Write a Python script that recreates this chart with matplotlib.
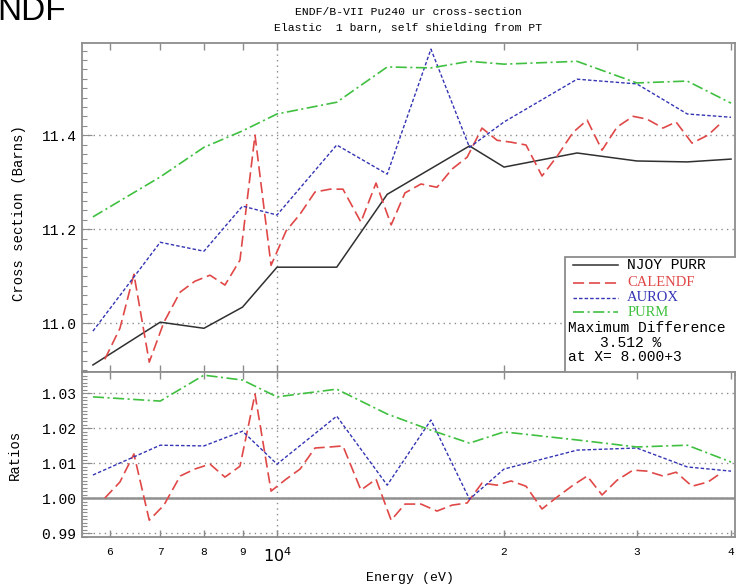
import matplotlib
matplotlib.use("Agg")
import matplotlib.pyplot as plt
from matplotlib.lines import Line2D
from matplotlib.patches import Rectangle
from matplotlib.ticker import FixedLocator, FixedFormatter, MultipleLocator, NullLocator

# energy grid (eV)
njoy_e = [5700, 7000, 8000, 9000, 10000, 12000, 14000, 18000, 20000,
          25000, 30000, 35000, 40000]
grid_e = [5700, 7000, 8000, 9000, 10000, 12000, 14000, 16000, 18000,
          20000, 25000, 30000, 35000, 40000]
calendf_e = [5910, 6190, 6460, 6770, 7080, 7440, 7780, 8150, 8530, 8930,
             9350, 9820, 10280, 10730, 11230, 11760, 12230, 12920, 13530, 14170,
             14780, 15520, 16300, 17070, 17870, 18700, 19580, 20430, 21390, 22460,
             23520, 24700, 25780, 26980, 28240, 29660, 30950, 32500, 33820, 35510,
             37290, 38930]

# cross sections (barns)
njoy = [10.911, 11.002, 10.989, 11.034, 11.119, 11.119, 11.274, 11.377, 11.332,
        11.362, 11.345, 11.343, 11.349]
aurox = [10.983, 11.172, 11.153, 11.249, 11.230, 11.379, 11.317, 11.583, 11.374,
         11.428, 11.519, 11.509, 11.445, 11.438]
purm = [11.226, 11.311, 11.374, 11.409, 11.445, 11.470, 11.545, 11.543, 11.557,
        11.551, 11.557, 11.511, 11.515, 11.468]
calendf = [10.923, 10.989, 11.104, 10.917, 11.002, 11.066, 11.089, 11.102, 11.081, 11.134,
           11.400, 11.123, 11.196, 11.232, 11.279, 11.285, 11.285, 11.215, 11.298, 11.209,
           11.277, 11.296, 11.289, 11.328, 11.353, 11.415, 11.389, 11.385, 11.379, 11.313,
           11.355, 11.406, 11.432, 11.368, 11.417, 11.440, 11.434, 11.415, 11.428, 11.383,
           11.400, 11.428]

# ratios to NJOY
aurox_ratio = [1.0066, 1.0151, 1.0149, 1.0191, 1.0097, 1.0234, 1.0037, 1.0223, 0.9997,
               1.0083, 1.0137, 1.0143, 1.0089, 1.0077]
purm_ratio = [1.0289, 1.0277, 1.0351, 1.0337, 1.0289, 1.0311, 1.0240, 1.0194, 1.0157,
              1.0189, 1.0166, 1.0146, 1.0151, 1.0103]
calendf_ratio = [1.0000, 1.0046, 1.0126, 0.9937, 0.9980, 1.0063, 1.0083, 1.0097, 1.0060, 1.0091,
                 1.0297, 1.0020, 1.0054, 1.0083, 1.0143, 1.0146, 1.0149, 1.0023, 1.0054, 0.9937,
                 0.9983, 0.9983, 0.9963, 0.9980, 0.9986, 1.0043, 1.0037, 1.0049, 1.0034, 0.9969,
                 1.0003, 1.0037, 1.0063, 1.0009, 1.0051, 1.0080, 1.0077, 1.0063, 1.0074, 1.0034,
                 1.0046, 1.0074]

xticks = [6000, 7000, 8000, 9000, 10000, 20000, 30000, 40000]
xtick_labels = ["6", "7", "8", "9", "$10^{4}$", "2", "3", "4"]

MONO = "Liberation Mono"
SERIF = "Liberation Serif"
GRAY = "#8c8c8c"
C_NJOY = "#303030"
C_CAL = "#e04848"
C_AUR = "#3434b4"
C_PUR = "#40c040"

plt.rcParams.update({
    "font.family": MONO,
    "lines.scale_dashes": False,
    "axes.edgecolor": GRAY,
    "axes.linewidth": 1.3,
})

styles = {
    "njoy": dict(color=C_NJOY, lw=1.1, linestyle="-"),
    "calendf": dict(color=C_CAL, lw=1.2, dashes=(8, 3.5)),
    "aurox": dict(color=C_AUR, lw=1.0, dashes=(2.5, 1.5)),
    "purm": dict(color=C_PUR, lw=1.2, dashes=(8, 2.5, 1.5, 2.5)),
}

fig = plt.figure(figsize=(7.36, 5.88), dpi=100)
W, H = 736, 588
left, right = 82 / W, 735 / W
ax = fig.add_axes([left, 1 - 372 / H, right - left, (372 - 43) / H])
axr = fig.add_axes([left, 1 - 537 / H, right - left, (537 - 372) / H])

xlim = (5513, 40490)

for a in (ax, axr):
    a.set_xscale("log")
    a.set_xlim(*xlim)
    a.xaxis.set_major_locator(FixedLocator(xticks))
    a.xaxis.set_minor_locator(NullLocator())
    a.tick_params(axis="x", which="major", direction="in", top=True, bottom=True,
                  length=5, width=1, color=GRAY)
    a.tick_params(axis="y", which="both", direction="in", left=True, right=False,
                  color=GRAY, width=0.8, labelsize=10.5, pad=4)
    a.tick_params(axis="y", which="major", length=7)
    a.tick_params(axis="y", which="minor", length=3.5)
    a.axvline(10000, color=GRAY, lw=1, dashes=(1, 3), zorder=1)

# top panel
ax.set_ylim(10.896, 11.596)
ax.yaxis.set_major_locator(FixedLocator([11.0, 11.2, 11.4]))
ax.yaxis.set_minor_locator(MultipleLocator(0.02))
ax.yaxis.set_major_formatter(FixedFormatter(["11.0", "11.2", "11.4"]))
ax.set_xticklabels([])
for yv in (11.0, 11.2, 11.4):
    ax.axhline(yv, color=GRAY, lw=1, dashes=(1, 3), zorder=1)

ax.plot(njoy_e, njoy, **styles["njoy"], zorder=3)
ax.plot(calendf_e, calendf, **styles["calendf"], zorder=3)
ax.plot(grid_e, aurox, **styles["aurox"], zorder=3)
ax.plot(grid_e, purm, **styles["purm"], zorder=3)

# bottom panel
axr.set_ylim(0.9889, 1.036)
rt = [0.99, 1.00, 1.01, 1.02, 1.03]
axr.yaxis.set_major_locator(FixedLocator(rt))
axr.yaxis.set_minor_locator(MultipleLocator(0.001))
axr.yaxis.set_major_formatter(FixedFormatter(["0.99", "1.00", "1.01", "1.02", "1.03"]))
for yv in rt:
    axr.axhline(yv, color=GRAY, lw=1, dashes=(1, 3), zorder=1)
axr.axhline(1.0, color="#909090", lw=1.8, zorder=2)

axr.plot(calendf_e, calendf_ratio, **styles["calendf"], zorder=3)
axr.plot(grid_e, aurox_ratio, **styles["aurox"], zorder=3)
axr.plot(grid_e, purm_ratio, **styles["purm"], zorder=3)

axr.set_xticklabels(xtick_labels)
axr.tick_params(axis="x", pad=7, labelsize=8)
for lab in axr.get_xticklabels():
    if "10" in lab.get_text():
        lab.set_fontsize(11.5)
        lab.set_fontfamily("DejaVu Sans")

# legend box drawn by hand
tr = ax.transAxes
box = Rectangle((0.7397, -0.01), 0.4, 0.36, transform=tr, facecolor="white",
                edgecolor=GRAY, lw=1.3, zorder=5, clip_on=False)
ax.add_patch(box)
rows = [("NJOY PURR", "njoy", MONO, "black"),
        ("CALENDF", "calendf", SERIF, C_CAL),
        ("AUROX", "aurox", SERIF, C_AUR),
        ("PURM", "purm", SERIF, C_PUR)]
row_y = [0.325, 0.271, 0.225, 0.182]
for (label, key, fam, col), yy in zip(rows, row_y):
    ax.add_line(Line2D([0.752, 0.821], [yy, yy], transform=tr, zorder=6,
                       clip_on=False, **styles[key]))
    ax.text(0.835, yy, label, transform=tr, fontsize=10.5, family=fam, color=col,
            va="center", ha="left", zorder=6)
ax.text(0.744, 0.134, "Maximum Difference", transform=tr, fontsize=10.5,
        va="center", ha="left", zorder=6)
ax.text(0.793, 0.088, "3.512 %", transform=tr, fontsize=10.5,
        va="center", ha="left", zorder=6)
ax.text(0.744, 0.046, "at X= 8.000+3", transform=tr, fontsize=10.5,
        va="center", ha="left", zorder=6)

# titles and labels
fig.text(408 / W, 1 - 12 / H, "ENDF/B-VII Pu240 ur cross-section", ha="center",
         va="center", fontsize=8.2)
fig.text(408 / W, 1 - 28 / H, "Elastic  1 barn, self shielding from PT", ha="center",
         va="center", fontsize=8.2)
fig.text(19 / W, 1 - 213 / H, "Cross section (Barns)", rotation=90, ha="center",
         va="center", fontsize=10)
fig.text(15 / W, 1 - 455 / H, "Ratios", rotation=90, ha="center", va="center",
         fontsize=10)
fig.text(410 / W, 1 - 578 / H, "Energy (eV)", ha="center", va="center", fontsize=9.5)

# fragment of slide heading cut off at the top edge
fig.text(-0.004, 1 - 20 / H, "NDF", family="Liberation Sans", fontsize=24,
         ha="left", va="baseline")

fig.savefig("out.png", dpi=100, facecolor="white")
